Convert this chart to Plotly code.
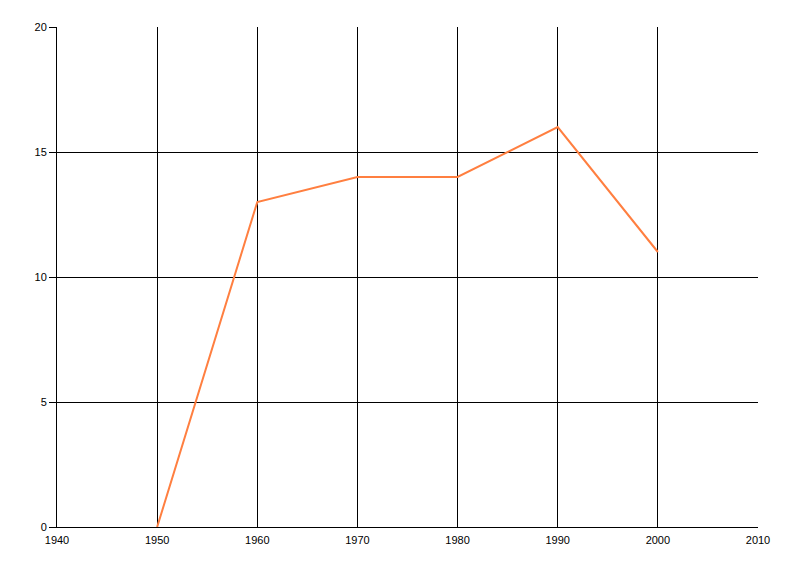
import plotly.graph_objects as go

years = [1950, 1960, 1970, 1980, 1990, 2000]
values = [0, 13, 14, 14, 16, 11]
x_ticks = [1940, 1950, 1960, 1970, 1980, 1990, 2000, 2010]
y_ticks = [0, 5, 10, 15, 20]

fig = go.Figure()
fig.add_trace(go.Scatter(x=years, y=values, mode="lines",
                         line=dict(color="#FF7F40", width=2)))

fig.update_layout(
    width=800, height=576,
    margin=dict(l=49, r=50, t=19, b=57, autoexpand=False),
    paper_bgcolor="white", plot_bgcolor="white",
    showlegend=False,
    font=dict(family="Liberation Sans, Arial, sans-serif", size=11, color="black"),
)
fig.update_xaxes(range=[1940, 2010], tickvals=x_ticks, ticktext=[str(t) for t in x_ticks],
                 showgrid=True, gridcolor="black", gridwidth=1,
                 showline=True, linecolor="black", linewidth=1,
                 ticks="", ticklabelstandoff=3, zeroline=False, fixedrange=True)
fig.update_yaxes(range=[0, 20], tickvals=y_ticks,
                 showgrid=True, gridcolor="black", gridwidth=1,
                 showline=True, linecolor="black", linewidth=1,
                 ticks="outside", ticklen=7, tickcolor="black",
                 zeroline=False, fixedrange=True)

fig.write_html("out.html")
